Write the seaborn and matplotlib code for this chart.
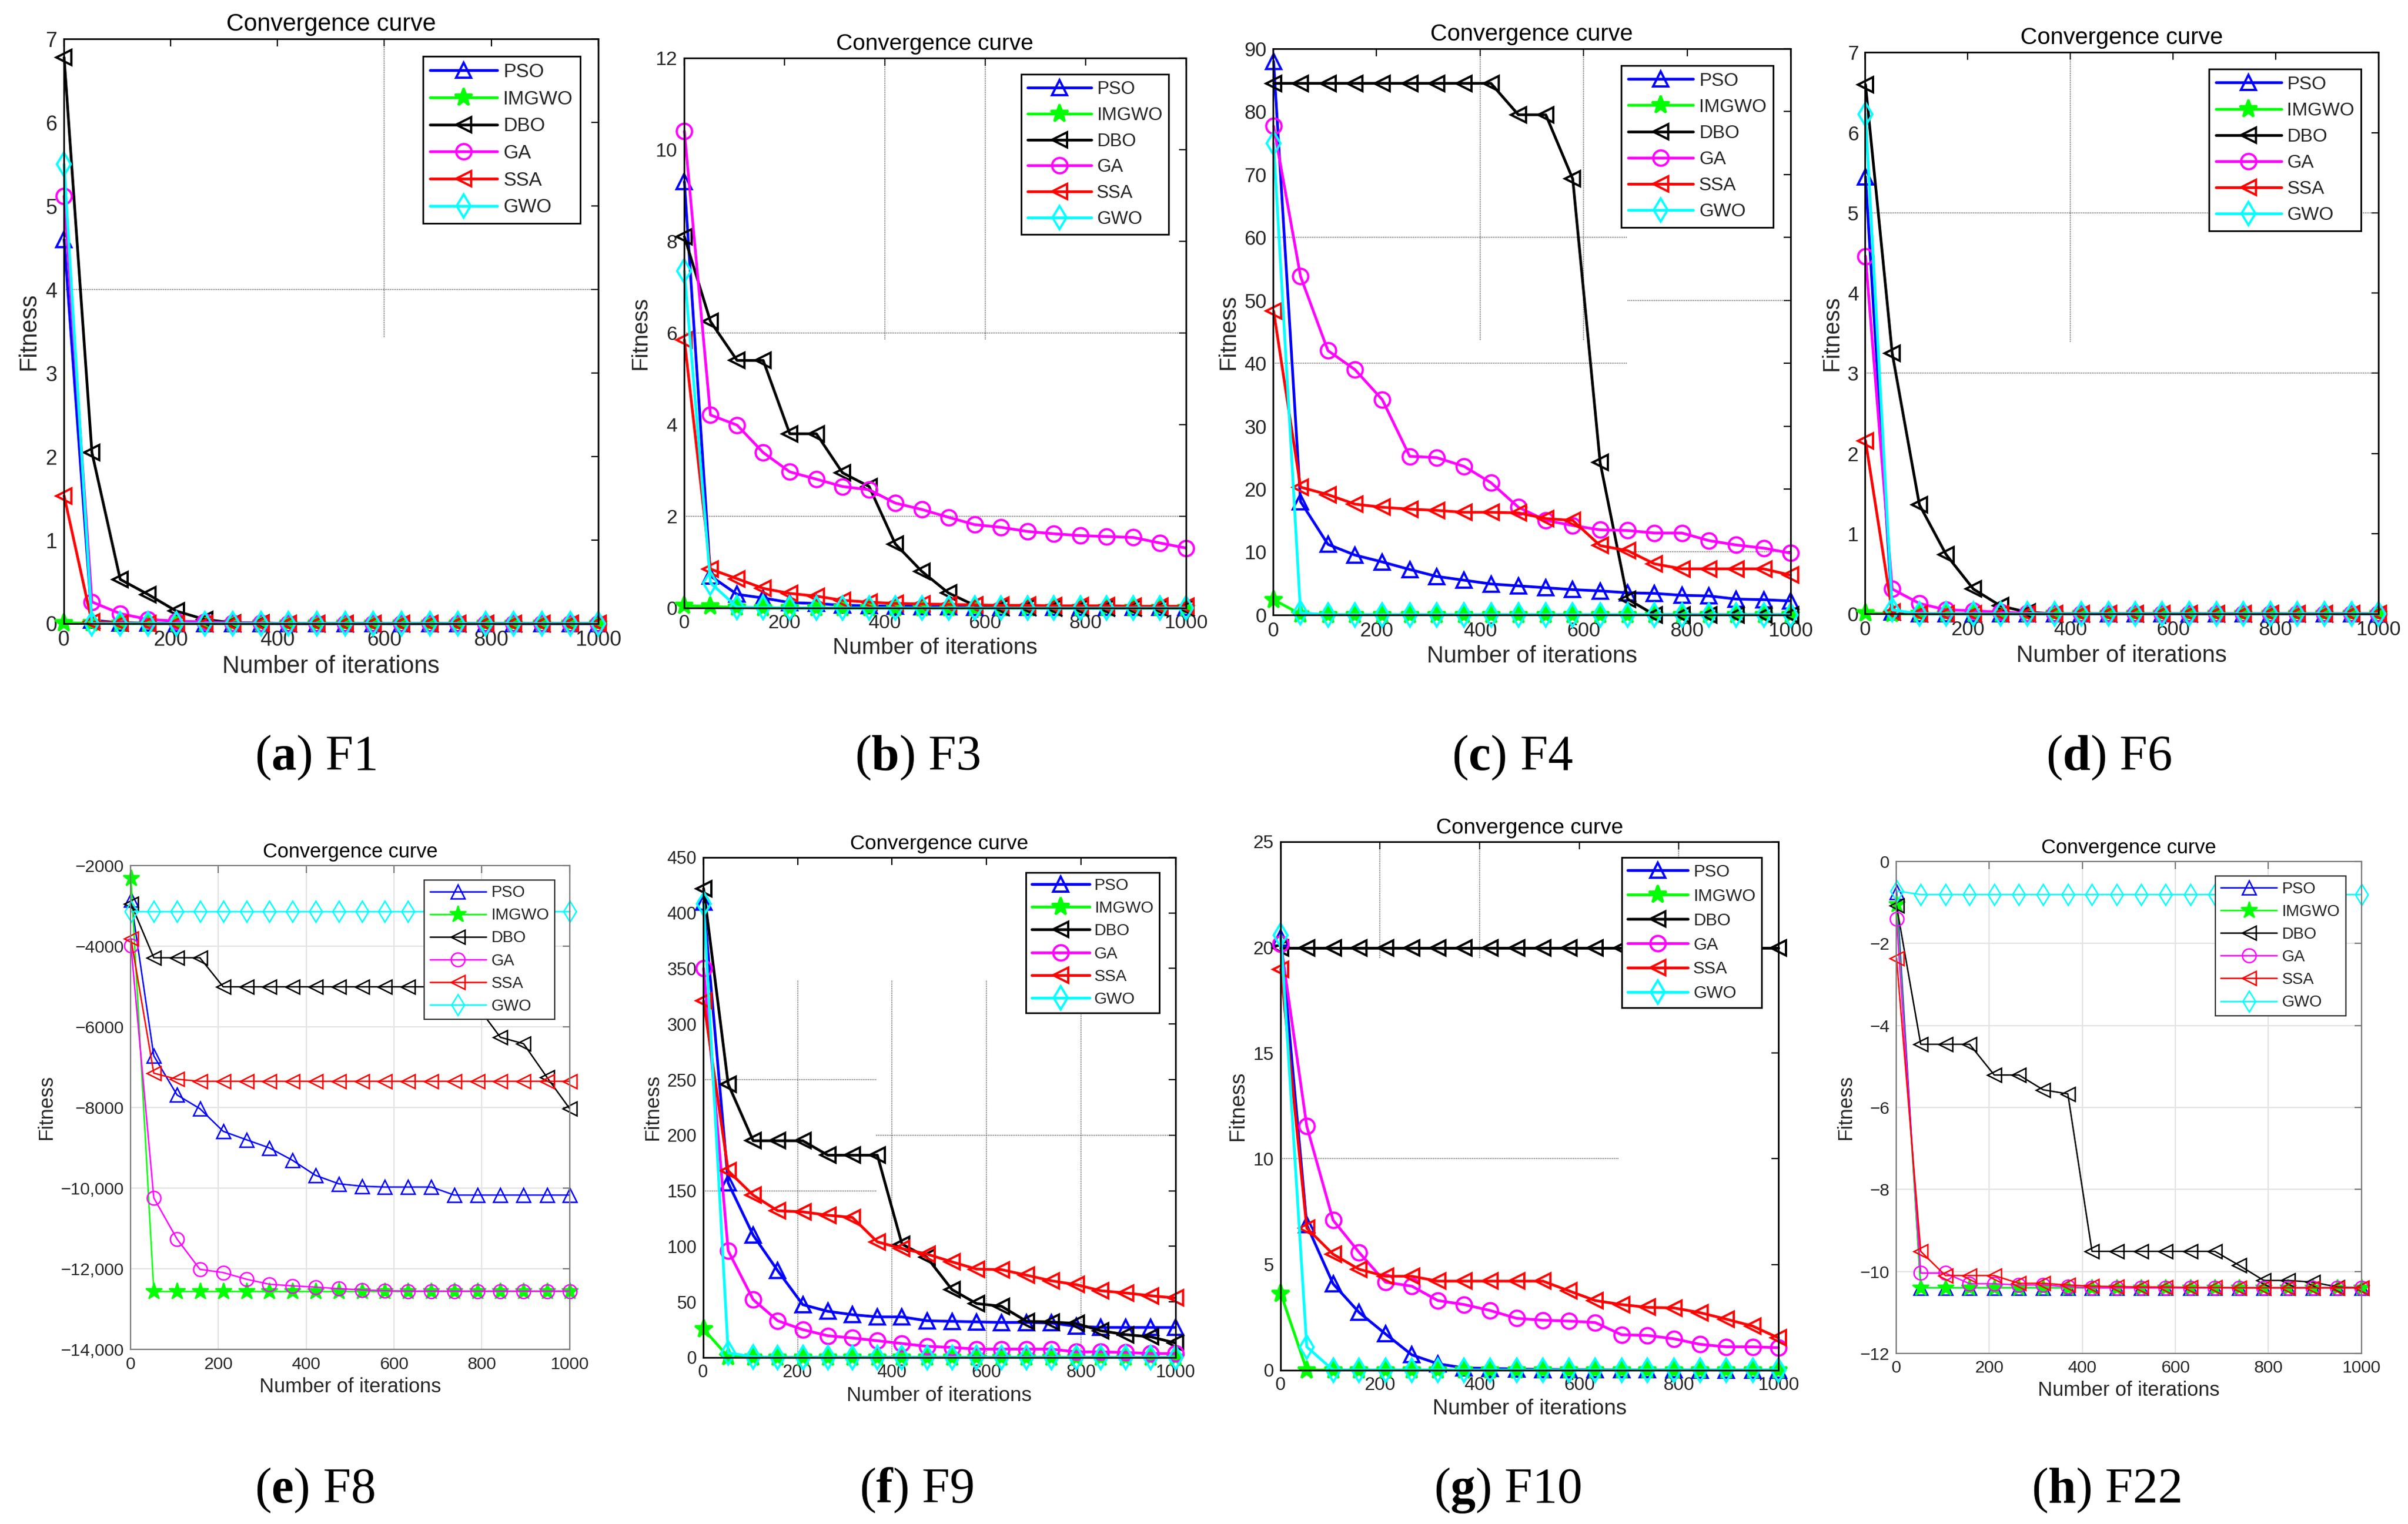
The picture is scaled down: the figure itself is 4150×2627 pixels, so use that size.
import matplotlib
matplotlib.use("Agg")
import matplotlib.pyplot as plt
import seaborn as sns
import pandas as pd
from matplotlib.ticker import FixedLocator, FixedFormatter

# ---------------- data ----------------
ITER = [1, 53, 106, 158, 211, 264, 316, 369, 421, 474, 527, 579, 632, 685, 737, 790, 842, 895, 948, 1000]
ALGOS = ["PSO", "IMGWO", "DBO", "GA", "SSA", "GWO"]

# (a) F1
F1_PSO = [4.60, 0.04, 0.01, 0.005, 0.003, 0.002, 0.001, 0, 0, 0, 0, 0, 0, 0, 0, 0, 0, 0, 0, 0]
F1_IMGWO = [0.01, 0.005, 0, 0, 0, 0, 0, 0, 0, 0, 0, 0, 0, 0, 0, 0, 0, 0, 0, 0]
F1_DBO = [6.78, 2.05, 0.53, 0.35, 0.15, 0.05, 0.01, 0.005, 0, 0, 0, 0, 0, 0, 0, 0, 0, 0, 0, 0]
F1_GA = [5.12, 0.26, 0.12, 0.05, 0.03, 0.02, 0.01, 0.01, 0, 0, 0, 0, 0, 0, 0, 0, 0, 0, 0, 0]
F1_SSA = [1.53, 0.02, 0.01, 0, 0, 0, 0, 0, 0, 0, 0, 0, 0, 0, 0, 0, 0, 0, 0, 0]
F1_GWO = [5.50, 0, 0, 0, 0, 0, 0, 0, 0, 0, 0, 0, 0, 0, 0, 0, 0, 0, 0, 0]

# (b) F3
F3_PSO = [9.30, 0.70, 0.30, 0.22, 0.12, 0.10, 0.06, 0.05, 0.04, 0.03, 0.03, 0.02, 0.02, 0.02, 0.02, 0.01, 0.01, 0.01, 0.01, 0.01]
F3_IMGWO = [0.05, 0.04, 0.01, 0, 0, 0, 0, 0, 0, 0, 0, 0, 0, 0, 0, 0, 0, 0, 0, 0]
F3_DBO = [8.10, 6.25, 5.40, 5.40, 3.80, 3.80, 2.95, 2.65, 1.40, 0.80, 0.33, 0.06, 0.02, 0.01, 0, 0, 0, 0, 0, 0]
F3_GA = [10.40, 4.21, 3.99, 3.39, 2.97, 2.81, 2.65, 2.58, 2.29, 2.15, 1.98, 1.82, 1.76, 1.67, 1.62, 1.58, 1.56, 1.54, 1.42, 1.31]
F3_SSA = [5.85, 0.85, 0.64, 0.43, 0.32, 0.26, 0.17, 0.13, 0.10, 0.09, 0.08, 0.07, 0.06, 0.06, 0.05, 0.05, 0.05, 0.04, 0.04, 0.04]
F3_GWO = [7.35, 0.55, 0.02, 0.01, 0, 0, 0, 0, 0, 0, 0, 0, 0, 0, 0, 0, 0, 0, 0, 0]

# (c) F4
F4_PSO = [88.0, 18.0, 11.2, 9.5, 8.4, 7.2, 6.1, 5.5, 4.9, 4.6, 4.3, 4.0, 3.8, 3.5, 3.4, 3.1, 3.0, 2.5, 2.4, 2.2]
F4_IMGWO = [2.4, 0.1, 0, 0, 0, 0, 0, 0, 0, 0, 0, 0, 0, 0, 0, 0, 0, 0, 0, 0]
F4_DBO = [84.5, 84.5, 84.5, 84.5, 84.5, 84.5, 84.5, 84.5, 84.5, 79.5, 79.5, 69.3, 24.2, 2.5, 0, 0, 0, 0, 0, 0]
F4_GA = [77.7, 53.8, 42.0, 39.0, 34.2, 25.2, 25.0, 23.6, 21.0, 17.1, 15.0, 14.2, 13.5, 13.4, 13.0, 13.0, 11.8, 11.1, 10.6, 9.8]
F4_SSA = [48.3, 20.3, 19.1, 17.6, 17.1, 16.8, 16.6, 16.3, 16.3, 16.2, 15.3, 15.0, 11.0, 10.2, 8.1, 7.3, 7.3, 7.3, 7.3, 6.3]
F4_GWO = [75.0, 0.3, 0, 0, 0, 0, 0, 0, 0, 0, 0, 0, 0, 0, 0, 0, 0, 0, 0, 0]

# (d) F6
F6_PSO = [5.45, 0.02, 0, 0, 0, 0, 0, 0, 0, 0, 0, 0, 0, 0, 0, 0, 0, 0, 0, 0]
F6_IMGWO = [0.01, 0, 0, 0, 0, 0, 0, 0, 0, 0, 0, 0, 0, 0, 0, 0, 0, 0, 0, 0]
F6_DBO = [6.60, 3.25, 1.36, 0.74, 0.31, 0.10, 0.02, 0, 0, 0, 0, 0, 0, 0, 0, 0, 0, 0, 0, 0]
F6_GA = [4.46, 0.31, 0.13, 0.05, 0.04, 0.02, 0.01, 0, 0, 0, 0, 0, 0, 0, 0, 0, 0, 0, 0, 0]
F6_SSA = [2.16, 0.02, 0, 0, 0, 0, 0, 0, 0, 0, 0, 0, 0, 0, 0, 0, 0, 0, 0, 0]
F6_GWO = [6.23, 0.05, 0, 0, 0, 0, 0, 0, 0, 0, 0, 0, 0, 0, 0, 0, 0, 0, 0, 0]

# (e) F8
F8_PSO = [-2850, -6720, -7690, -8030, -8590, -8800, -9000, -9310, -9680, -9890, -9950, -9970, -9970, -9970, -10170, -10170, -10170, -10170, -10170, -10170]
F8_IMGWO = [-2320, -12560, -12560, -12560, -12560, -12560, -12560, -12560, -12560, -12560, -12560, -12560, -12560, -12560, -12560, -12560, -12560, -12560, -12560, -12560]
F8_DBO = [-2950, -4290, -4290, -4290, -5010, -5010, -5010, -5010, -5010, -5010, -5010, -5010, -5010, -5010, -5010, -5500, -6260, -6420, -7250, -8030]
F8_GA = [-3990, -10240, -11260, -12010, -12090, -12255, -12380, -12420, -12450, -12490, -12520, -12540, -12550, -12550, -12550, -12550, -12550, -12550, -12550, -12550]
F8_SSA = [-3820, -7150, -7300, -7350, -7350, -7350, -7350, -7350, -7350, -7350, -7350, -7350, -7350, -7350, -7350, -7350, -7350, -7350, -7350, -7350]
F8_GWO = [-3140, -3140, -3140, -3140, -3140, -3140, -3140, -3140, -3140, -3140, -3140, -3140, -3140, -3140, -3140, -3140, -3140, -3140, -3140, -3140]

# (f) F9
F9_PSO = [410, 157, 110, 78, 47.5, 41.5, 38.5, 36.5, 36.5, 33, 32.5, 32, 31.5, 31.5, 31, 28, 27, 27, 27, 27]
F9_IMGWO = [25.5, 0.5, 0, 0, 0, 0, 0, 0, 0, 0, 0, 0, 0, 0, 0, 0, 0, 0, 0, 0]
F9_DBO = [422, 246, 195, 195, 195, 182, 182, 182, 102, 90, 61, 48.5, 46, 32.5, 32, 30.5, 24, 20.5, 18.5, 13]
F9_GA = [350, 96, 52, 33, 25, 19.5, 17.5, 15, 12.5, 10, 9, 7.5, 7.5, 7.5, 7.5, 5, 5, 4.5, 3.5, 3.5]
F9_SSA = [321, 168, 146, 132, 131, 128, 126, 104, 98, 93, 86, 79.5, 79, 74, 69, 65.5, 60, 58, 55.5, 53.5]
F9_GWO = [408, 4.2, 0.5, 0, 0, 0, 0, 0, 0, 0, 0, 0, 0, 0, 0, 0, 0, 0, 0, 0]

# (g) F10
F10_PSO = [20.45, 6.87, 4.08, 2.73, 1.71, 0.72, 0.30, 0.10, 0.08, 0.05, 0.03, 0.02, 0.02, 0.01, 0.01, 0.01, 0, 0, 0, 0]
F10_IMGWO = [3.62, 0, 0, 0, 0, 0, 0, 0, 0, 0, 0, 0, 0, 0, 0, 0, 0, 0, 0, 0]
F10_DBO = [19.97, 19.97, 19.97, 19.97, 19.97, 19.97, 19.97, 19.97, 19.97, 19.97, 19.97, 19.97, 19.97, 19.97, 19.97, 19.97, 19.97, 19.97, 19.97, 19.97]
F10_GA = [20.17, 11.54, 7.09, 5.57, 4.16, 3.97, 3.29, 3.10, 2.82, 2.45, 2.36, 2.32, 2.25, 1.67, 1.64, 1.48, 1.22, 1.10, 1.10, 1.06]
F10_SSA = [18.97, 6.72, 5.48, 4.77, 4.44, 4.44, 4.21, 4.21, 4.21, 4.21, 4.21, 3.75, 3.29, 3.10, 2.97, 2.94, 2.72, 2.41, 2.08, 1.52]
F10_GWO = [20.58, 1.10, 0, 0, 0, 0, 0, 0, 0, 0, 0, 0, 0, 0, 0, 0, 0, 0, 0, 0]

# (h) F22
F22_PSO = [-0.75, -10.40, -10.40, -10.40, -10.40, -10.40, -10.40, -10.40, -10.40, -10.40, -10.40, -10.40, -10.40, -10.40, -10.40, -10.40, -10.40, -10.40, -10.40, -10.40]
F22_IMGWO = [-1.05, -10.40, -10.40, -10.40, -10.40, -10.40, -10.40, -10.40, -10.40, -10.40, -10.40, -10.40, -10.40, -10.40, -10.40, -10.40, -10.40, -10.40, -10.40, -10.40]
F22_DBO = [-1.08, -4.46, -4.46, -4.46, -5.21, -5.21, -5.57, -5.67, -9.51, -9.51, -9.51, -9.51, -9.51, -9.51, -9.85, -10.22, -10.22, -10.26, -10.38, -10.40]
F22_GA = [-1.41, -10.04, -10.04, -10.30, -10.30, -10.33, -10.33, -10.37, -10.40, -10.40, -10.40, -10.40, -10.40, -10.40, -10.40, -10.40, -10.40, -10.40, -10.40, -10.40]
F22_SSA = [-2.36, -9.51, -10.10, -10.10, -10.10, -10.29, -10.29, -10.33, -10.36, -10.37, -10.38, -10.38, -10.39, -10.39, -10.40, -10.40, -10.40, -10.40, -10.40, -10.40]
F22_GWO = [-0.72, -0.81, -0.81, -0.81, -0.81, -0.81, -0.81, -0.81, -0.81, -0.81, -0.81, -0.81, -0.81, -0.81, -0.81, -0.81, -0.81, -0.81, -0.81, -0.81]

CAPTION_LETTERS = ["a", "b", "c", "d", "e", "f", "g", "h"]
CAPTION_FUNCS = ["F1", "F3", "F4", "F6", "F8", "F9", "F10", "F22"]
Y_LIMITS = [(0, 7), (0, 12), (0, 90), (0, 7), (-14000, -2000), (0, 450), (0, 25), (-12, 0)]
Y_TICKS = [[0, 1, 2, 3, 4, 5, 6, 7], [0, 2, 4, 6, 8, 10, 12], [0, 10, 20, 30, 40, 50, 60, 70, 80, 90],
           [0, 1, 2, 3, 4, 5, 6, 7], [-14000, -12000, -10000, -8000, -6000, -4000, -2000],
           [0, 50, 100, 150, 200, 250, 300, 350, 400, 450], [0, 5, 10, 15, 20, 25],
           [-12, -10, -8, -6, -4, -2, 0]]
Y_TICKLABELS = [None, None, None, None,
                ["\u221214,000", "\u221212,000", "\u221210,000", "\u22128000", "\u22126000", "\u22124000", "\u22122000"],
                None, None,
                ["\u221212", "\u221210", "\u22128", "\u22126", "\u22124", "\u22122", "0"]]
X_TICKS = [0, 200, 400, 600, 800, 1000]

PANEL_DATA = [
    [F1_PSO, F1_IMGWO, F1_DBO, F1_GA, F1_SSA, F1_GWO],
    [F3_PSO, F3_IMGWO, F3_DBO, F3_GA, F3_SSA, F3_GWO],
    [F4_PSO, F4_IMGWO, F4_DBO, F4_GA, F4_SSA, F4_GWO],
    [F6_PSO, F6_IMGWO, F6_DBO, F6_GA, F6_SSA, F6_GWO],
    [F8_PSO, F8_IMGWO, F8_DBO, F8_GA, F8_SSA, F8_GWO],
    [F9_PSO, F9_IMGWO, F9_DBO, F9_GA, F9_SSA, F9_GWO],
    [F10_PSO, F10_IMGWO, F10_DBO, F10_GA, F10_SSA, F10_GWO],
    [F22_PSO, F22_IMGWO, F22_DBO, F22_GA, F22_SSA, F22_GWO],
]

# ---------------- style / layout ----------------
COLORS = {"PSO": "#0000FF", "IMGWO": "#00FF00", "DBO": "#000000",
          "GA": "#FF00FF", "SSA": "#FF0000", "GWO": "#00FFFF"}
MARKERS = {"PSO": "^", "IMGWO": "*", "DBO": "<", "GA": "o", "SSA": "<", "GWO": "d"}

AX_RECTS = [
    [0.0264, 0.5908, 0.2220, 0.3836],
    [0.2840, 0.6010, 0.2085, 0.3611],
    [0.5287, 0.5966, 0.2149, 0.3714],
    [0.7745, 0.5972, 0.2132, 0.3684],
    [0.0542, 0.1144, 0.1824, 0.3178],
    [0.2920, 0.1093, 0.1961, 0.3281],
    [0.5317, 0.1010, 0.2069, 0.3467],
    [0.7874, 0.1119, 0.1933, 0.3229],
]
MODERN = [False, False, False, False, True, False, False, True]
FONT_SCALE = [1.2, 1.13, 1.16, 1.16, 1.0, 1.02, 1.07, 1.0]
CAPTION_POS = [(0.131, 0.4945), (0.381, 0.4945), (0.628, 0.4945), (0.8757, 0.4945),
               (0.1307, 0.014), (0.3807, 0.014), (0.626, 0.014), (0.8747, 0.014)]
# leftover partial dotted grid segments: (orient, value, from_frac, to_frac)
PARTIAL_GRID = [
    [("h", 4, 0, 1), ("v", 600, 0.49, 1)],
    [("v", 400, 0.488, 1), ("v", 600, 0.488, 1), ("h", 6, 0, 1), ("h", 2, 0, 1)],
    [("v", 400, 0.486, 1), ("v", 600, 0.486, 1), ("h", 60, 0, 0.684), ("h", 40, 0, 0.684),
     ("h", 50, 0.685, 1), ("h", 10, 0.685, 1)],
    [("v", 400, 0.485, 1), ("h", 5, 0, 1), ("h", 3, 0, 1)],
    [],
    [("v", 200, 0, 0.755), ("v", 400, 0, 0.755), ("v", 600, 0, 0.755), ("v", 800, 0, 0.755),
     ("h", 250, 0, 0.366), ("h", 150, 0, 0.366), ("h", 200, 0.366, 1)],
    [("v", 200, 0.78, 1), ("v", 400, 0.78, 1), ("v", 800, 0.97, 1), ("h", 10, 0, 0.68)],
    [],
]

sns.set_theme(style="white")
plt.rcParams["font.family"] = ["Liberation Sans", "DejaVu Sans"]
plt.rcParams["mathtext.fontset"] = "custom"
plt.rcParams["mathtext.rm"] = "Liberation Serif"
plt.rcParams["mathtext.bf"] = "Liberation Serif:bold"
plt.rcParams["axes.unicode_minus"] = True

fig = plt.figure(figsize=(20.75, 13.135), dpi=200)
fig.patch.set_facecolor("white")

for i in range(8):
    ax = fig.add_axes(AX_RECTS[i])
    modern = MODERN[i]
    s = FONT_SCALE[i]
    lw = 0.9 if modern else 1.7
    ms = 8.5 if modern else 9.5
    mew = 0.9 if modern else 1.4
    spine_c = "#7a7a7a" if modern else "#000000"
    text_c = "#262626"

    for algo, vals in zip(ALGOS, PANEL_DATA[i]):
        df = pd.DataFrame({"iter": ITER, "fit": vals})
        c = COLORS[algo]
        mk = MARKERS[algo]
        face = c if algo == "IMGWO" else "none"
        size = ms + 2 if algo == "IMGWO" else (ms + 0.5 if algo == "GWO" else ms)
        sns.lineplot(data=df, x="iter", y="fit", ax=ax, color=c, marker=mk,
                     markerfacecolor=face, markeredgecolor=c, markersize=size,
                     markeredgewidth=mew, linewidth=lw, label=algo, sort=False,
                     errorbar=None, clip_on=False, zorder=3)

    ax.set_xlim(0, 1000)
    ax.set_ylim(*Y_LIMITS[i])
    ax.xaxis.set_major_locator(FixedLocator(X_TICKS))
    ax.yaxis.set_major_locator(FixedLocator(Y_TICKS[i]))
    if Y_TICKLABELS[i] is not None:
        ax.yaxis.set_major_formatter(FixedFormatter(Y_TICKLABELS[i]))

    if modern:
        ax.grid(True, color="#e3e3e3", linewidth=0.8, zorder=0)
    else:
        ax.grid(False)
        for orient, val, a0, a1 in PARTIAL_GRID[i]:
            if orient == "h":
                ax.axhline(val, xmin=a0, xmax=a1, color="#555555", linestyle=(0, (1, 1)),
                           linewidth=0.55, zorder=1)
            else:
                ax.axvline(val, ymin=a0, ymax=a1, color="#555555", linestyle=(0, (1, 1)),
                           linewidth=0.55, zorder=1)

    for sp in ax.spines.values():
        sp.set_visible(True)
        sp.set_color(spine_c)
        sp.set_linewidth(0.8 if modern else 1.0)
        sp.set_zorder(5)
    ax.tick_params(direction="in", top=True, right=True, length=4.5, width=0.8,
                   color=spine_c, labelsize=10.8 * s, labelcolor=text_c, pad=4)

    ax.set_title("Convergence curve", fontsize=12.5 * s, color="#000000", pad=5)
    ax.set_xlabel("Number of iterations", fontsize=12.5 * s, color=text_c, labelpad=3)
    ax.set_ylabel("Fitness", fontsize=12.5 * s, color=text_c, labelpad=3)

    leg = ax.legend(loc="upper right", bbox_to_anchor=(0.966, 0.97), fontsize=10.0 * s,
                    handlelength=3.5, handletextpad=0.3, labelspacing=0.47,
                    borderpad=0.35, fancybox=False, framealpha=1, borderaxespad=0.0)
    leg.get_frame().set_edgecolor("#333333" if modern else "#000000")
    leg.get_frame().set_linewidth(0.8 if modern else 1.0)
    leg.set_zorder(10)

    cx, cy = CAPTION_POS[i]
    fig.text(cx, cy, r"($\mathbf{" + CAPTION_LETTERS[i] + r"}$) " + CAPTION_FUNCS[i],
             ha="center", va="baseline", fontsize=31, family="Liberation Serif", color="black")

fig.savefig("out.png", dpi=200, facecolor="white")
